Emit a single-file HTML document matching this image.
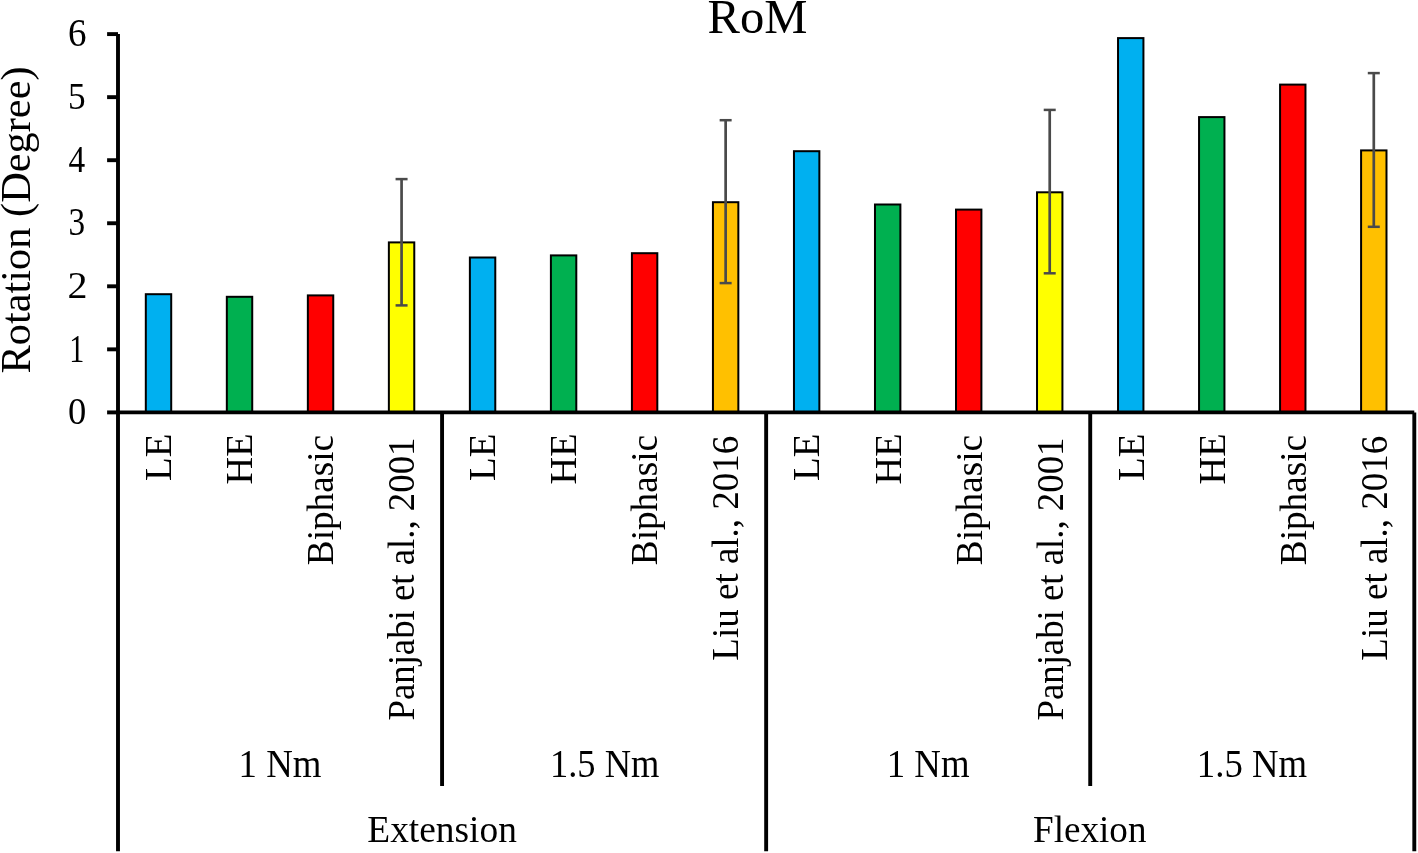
<!DOCTYPE html><html><head><meta charset="utf-8"><style>html,body{margin:0;padding:0;background:#fff;overflow:hidden;}svg{display:block;will-change:transform;}text{font-family:"Liberation Serif", serif;fill:#000;}</style></head><body>
<svg width="1418" height="853" viewBox="0 0 1418 853">
<rect x="0" y="0" width="1418" height="853" fill="#fff"/>
<g id="graphics">
<rect x="145.81" y="294.20" width="25.40" height="118.20" fill="#00B0F0" stroke="#000" stroke-width="2.0"/>
<rect x="226.83" y="296.80" width="25.40" height="115.60" fill="#00B050" stroke="#000" stroke-width="2.0"/>
<rect x="307.85" y="295.40" width="25.40" height="117.00" fill="#FF0000" stroke="#000" stroke-width="2.0"/>
<rect x="388.87" y="242.40" width="25.40" height="170.00" fill="#FFFF00" stroke="#000" stroke-width="2.0"/>
<rect x="469.88" y="257.50" width="25.40" height="154.90" fill="#00B0F0" stroke="#000" stroke-width="2.0"/>
<rect x="550.90" y="255.40" width="25.40" height="157.00" fill="#00B050" stroke="#000" stroke-width="2.0"/>
<rect x="631.92" y="253.20" width="25.40" height="159.20" fill="#FF0000" stroke="#000" stroke-width="2.0"/>
<rect x="712.94" y="202.20" width="25.40" height="210.20" fill="#FFC000" stroke="#000" stroke-width="2.0"/>
<rect x="793.96" y="151.20" width="25.40" height="261.20" fill="#00B0F0" stroke="#000" stroke-width="2.0"/>
<rect x="874.98" y="204.50" width="25.40" height="207.90" fill="#00B050" stroke="#000" stroke-width="2.0"/>
<rect x="956.00" y="209.60" width="25.40" height="202.80" fill="#FF0000" stroke="#000" stroke-width="2.0"/>
<rect x="1037.02" y="192.30" width="25.40" height="220.10" fill="#FFFF00" stroke="#000" stroke-width="2.0"/>
<rect x="1118.03" y="38.10" width="25.40" height="374.30" fill="#00B0F0" stroke="#000" stroke-width="2.0"/>
<rect x="1199.05" y="117.10" width="25.40" height="295.30" fill="#00B050" stroke="#000" stroke-width="2.0"/>
<rect x="1280.07" y="84.60" width="25.40" height="327.80" fill="#FF0000" stroke="#000" stroke-width="2.0"/>
<rect x="1361.09" y="150.40" width="25.40" height="262.00" fill="#FFC000" stroke="#000" stroke-width="2.0"/>
<line x1="401.57" y1="179.10" x2="401.57" y2="305.40" stroke="#4a4a4a" stroke-width="2.7"/>
<line x1="395.57" y1="179.10" x2="407.57" y2="179.10" stroke="#4a4a4a" stroke-width="2.5"/>
<line x1="395.57" y1="305.40" x2="407.57" y2="305.40" stroke="#4a4a4a" stroke-width="2.5"/>
<line x1="725.64" y1="120.20" x2="725.64" y2="283.10" stroke="#4a4a4a" stroke-width="2.7"/>
<line x1="719.64" y1="120.20" x2="731.64" y2="120.20" stroke="#4a4a4a" stroke-width="2.5"/>
<line x1="719.64" y1="283.10" x2="731.64" y2="283.10" stroke="#4a4a4a" stroke-width="2.5"/>
<line x1="1049.72" y1="109.90" x2="1049.72" y2="273.30" stroke="#4a4a4a" stroke-width="2.7"/>
<line x1="1043.72" y1="109.90" x2="1055.72" y2="109.90" stroke="#4a4a4a" stroke-width="2.5"/>
<line x1="1043.72" y1="273.30" x2="1055.72" y2="273.30" stroke="#4a4a4a" stroke-width="2.5"/>
<line x1="1373.79" y1="73.10" x2="1373.79" y2="226.80" stroke="#4a4a4a" stroke-width="2.7"/>
<line x1="1367.79" y1="73.10" x2="1379.79" y2="73.10" stroke="#4a4a4a" stroke-width="2.5"/>
<line x1="1367.79" y1="226.80" x2="1379.79" y2="226.80" stroke="#4a4a4a" stroke-width="2.5"/>
<g stroke="#000" stroke-width="3.9" fill="none">
<line x1="118.00" y1="34.10" x2="118.00" y2="851.2"/>
<line x1="107.1" y1="412.40" x2="118.00" y2="412.40"/>
<line x1="107.1" y1="349.35" x2="118.00" y2="349.35"/>
<line x1="107.1" y1="286.30" x2="118.00" y2="286.30"/>
<line x1="107.1" y1="223.25" x2="118.00" y2="223.25"/>
<line x1="107.1" y1="160.20" x2="118.00" y2="160.20"/>
<line x1="107.1" y1="97.15" x2="118.00" y2="97.15"/>
<line x1="107.1" y1="34.10" x2="118.00" y2="34.10"/>
<line x1="118.00" y1="412.40" x2="1414.30" y2="412.40"/>
<line x1="442.07" y1="412.40" x2="442.07" y2="786.10"/>
<line x1="766.15" y1="412.40" x2="766.15" y2="851.20"/>
<line x1="1090.22" y1="412.40" x2="1090.22" y2="786.10"/>
<line x1="1414.30" y1="412.40" x2="1414.30" y2="851.20"/>
</g></g>
<g id="tick0" transform="matrix(0.96250 0 0 1.00000 2.988 -1.300)"><text x="86.5" y="425.24" font-size="38" text-anchor="end">0</text></g>
<g id="tick1" transform="matrix(0.79231 0 0 1.03600 15.646 -13.432)"><text x="86.5" y="362.19" font-size="38" text-anchor="end">1</text></g>
<g id="tick2" transform="matrix(1.05333 0 0 1.00000 -3.680 -1.200)"><text x="86.5" y="299.14" font-size="38" text-anchor="end">2</text></g>
<g id="tick3" transform="matrix(0.87500 0 0 1.03600 9.425 -9.696)"><text x="86.5" y="236.09" font-size="38" text-anchor="end">3</text></g>
<g id="tick4" transform="matrix(0.87778 0 0 1.02400 9.311 -5.352)"><text x="86.5" y="173.04" font-size="38" text-anchor="end">4</text></g>
<g id="tick5" transform="matrix(0.92667 0 0 0.99200 5.433 -0.420)"><text x="86.5" y="109.99" font-size="38" text-anchor="end">5</text></g>
<g id="tick6" transform="matrix(0.97500 0 0 1.03600 2.125 -2.692)"><text x="86.5" y="46.94" font-size="38" text-anchor="end">6</text></g>
<g id="cat0" transform="matrix(1.00000 0 0 1.02326 0.000 -11.663)"><text transform="translate(171.33,435) rotate(-90)" font-size="38" text-anchor="end">LE</text></g>
<g id="cat1" transform="matrix(1.00000 0 0 1.00625 0.000 -4.231)"><text transform="translate(252.35,435) rotate(-90)" font-size="38" text-anchor="end">HE</text></g>
<g id="cat2" transform="matrix(1.00000 0 0 0.97939 0.000 8.886)"><text transform="translate(333.37,435) rotate(-90)" font-size="38" text-anchor="end">Biphasic</text></g>
<g id="cat3" transform="matrix(1.00000 0 0 0.96817 0.000 16.411)"><text transform="translate(414.39,435) rotate(-90)" font-size="38" text-anchor="end">Panjabi et al., 2001</text></g>
<g id="cat4" transform="matrix(1.00000 0 0 1.02326 0.000 -11.663)"><text transform="translate(495.41,435) rotate(-90)" font-size="38" text-anchor="end">LE</text></g>
<g id="cat5" transform="matrix(1.00000 0 0 1.00625 0.000 -4.231)"><text transform="translate(576.43,435) rotate(-90)" font-size="38" text-anchor="end">HE</text></g>
<g id="cat6" transform="matrix(1.00000 0 0 0.97939 0.000 8.886)"><text transform="translate(657.45,435) rotate(-90)" font-size="38" text-anchor="end">Biphasic</text></g>
<g id="cat7" transform="matrix(1.00000 0 0 0.97380 0.000 12.024)"><text transform="translate(738.47,435) rotate(-90)" font-size="38" text-anchor="end">Liu et al., 2016</text></g>
<g id="cat8" transform="matrix(1.00000 0 0 1.02326 0.000 -11.663)"><text transform="translate(819.48,435) rotate(-90)" font-size="38" text-anchor="end">LE</text></g>
<g id="cat9" transform="matrix(1.00000 0 0 1.00625 0.000 -4.231)"><text transform="translate(900.50,435) rotate(-90)" font-size="38" text-anchor="end">HE</text></g>
<g id="cat10" transform="matrix(1.00000 0 0 0.97939 0.000 8.886)"><text transform="translate(981.52,435) rotate(-90)" font-size="38" text-anchor="end">Biphasic</text></g>
<g id="cat11" transform="matrix(1.00000 0 0 0.96817 0.000 16.411)"><text transform="translate(1062.54,435) rotate(-90)" font-size="38" text-anchor="end">Panjabi et al., 2001</text></g>
<g id="cat12" transform="matrix(1.00000 0 0 1.02326 0.000 -11.663)"><text transform="translate(1143.56,435) rotate(-90)" font-size="38" text-anchor="end">LE</text></g>
<g id="cat13" transform="matrix(1.00000 0 0 1.00625 0.000 -4.231)"><text transform="translate(1224.58,435) rotate(-90)" font-size="38" text-anchor="end">HE</text></g>
<g id="cat14" transform="matrix(1.00000 0 0 0.97939 0.000 8.886)"><text transform="translate(1305.60,435) rotate(-90)" font-size="38" text-anchor="end">Biphasic</text></g>
<g id="cat15" transform="matrix(1.00000 0 0 0.97380 0.000 12.024)"><text transform="translate(1386.62,435) rotate(-90)" font-size="38" text-anchor="end">Liu et al., 2016</text></g>
<g id="grp0" transform="matrix(0.96914 0 0 1.03200 8.638 -25.064)"><text x="280.04" y="776.8" font-size="38" text-anchor="middle">1 Nm</text></g>
<g id="grp1" transform="matrix(0.95909 0 0 1.03600 25.300 -27.872)"><text x="604.11" y="776.8" font-size="38" text-anchor="middle">1.5 Nm</text></g>
<g id="grp2" transform="matrix(0.96790 0 0 1.03600 29.736 -27.972)"><text x="928.19" y="776.8" font-size="38" text-anchor="middle">1 Nm</text></g>
<g id="grp3" transform="matrix(0.96727 0 0 1.03600 40.740 -27.972)"><text x="1252.26" y="776.8" font-size="38" text-anchor="middle">1.5 Nm</text></g>
<g id="top0" transform="matrix(0.98467 0 0 1.00000 6.827 0.000)"><text x="442.07" y="841.7" font-size="38" text-anchor="middle">Extension</text></g>
<g id="top1" transform="matrix(0.97739 0 0 1.00000 24.155 0.000)"><text x="1090.22" y="841.7" font-size="38" text-anchor="middle">Flexion</text></g>
<g id="title" transform="matrix(1.01250 0 0 1.00312 -9.775 -0.303)"><text x="757.8" y="32.9" font-size="48" text-anchor="middle">RoM</text></g>
<g id="ytitle" transform="matrix(1.00395 0 0 0.98544 -1.058 2.861)"><text transform="translate(30.8,220.3) rotate(-90)" font-size="43" text-anchor="middle">Rotation (Degree)</text></g>
</svg></body></html>
